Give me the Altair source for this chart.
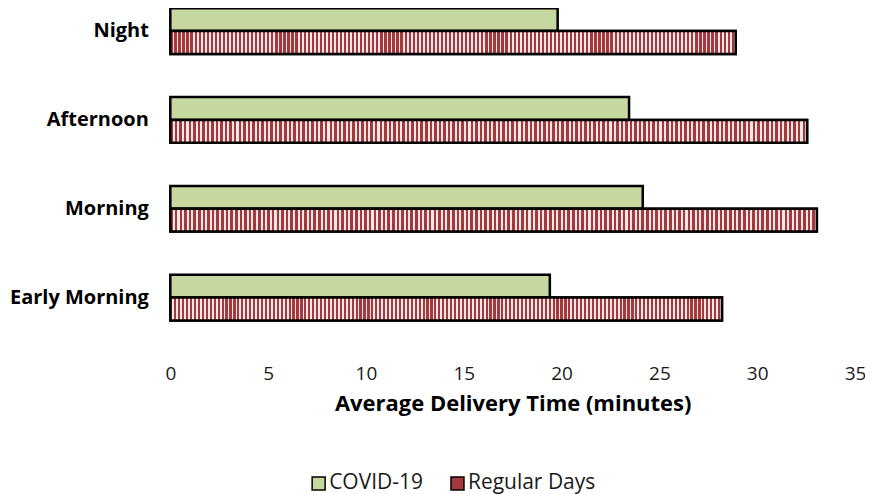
import altair as alt
import pandas as pd

categories = ["Night", "Afternoon", "Morning", "Early Morning"]
series = ["COVID-19", "Regular Days"]
covid = [19.8, 23.45, 24.15, 19.4]
regular = [28.9, 32.55, 33.05, 28.2]
x_ticks = [0, 5, 10, 15, 20, 25, 30, 35]

rows = []
for c, a, b in zip(categories, covid, regular):
    rows.append({"period": c, "series": series[0], "value": a})
    rows.append({"period": c, "series": series[1], "value": b})
df = pd.DataFrame(rows)

FONT = "Open Sans"
GREEN = "#c6d89f"
RED = "#a3393c"
LIGHT = "#f6e6e6"

# vertical stripe texture for the "Regular Days" bars
n = 140
stops = []
for i in range(n):
    s = round(i / n, 5)
    m = round((i + 0.55) / n, 5)
    e = round((i + 1) / n, 5)
    stops += [
        {"offset": s, "color": RED},
        {"offset": m, "color": RED},
        {"offset": m, "color": LIGHT},
        {"offset": e, "color": LIGHT},
    ]
stripe = {"gradient": "linear", "x1": 0, "y1": 0, "x2": 1, "y2": 0, "stops": stops}

y_enc = alt.Y(
    "period:N",
    sort=categories,
    scale=alt.Scale(paddingInner=0.486, paddingOuter=0),
    axis=alt.Axis(
        title=None, domain=False, ticks=False, labelFontSize=20,
        labelFontWeight="bold", labelFont=FONT, labelColor="#000000",
        labelPadding=22,
    ),
)
yoff_enc = alt.YOffset("series:N", scale=alt.Scale(domain=series, paddingInner=0, paddingOuter=0))
x_enc = alt.X(
    "value:Q",
    scale=alt.Scale(domain=[0, 35], nice=False),
    axis=alt.Axis(
        values=x_ticks, grid=False, domain=False, ticks=False, labelFlush=False,
        labelFontSize=19, labelFont=FONT, labelColor="#1a1a1a", labelPadding=44,
        title="Average Delivery Time (minutes)", titleFontSize=22,
        titleFont=FONT, titleFontWeight="bold", titleColor="#000000", titlePadding=10,
    ),
)

base = alt.Chart(df)

bars = base.mark_bar(stroke="black", strokeWidth=2.5).encode(
    x=x_enc,
    y=y_enc,
    yOffset=yoff_enc,
    fill=alt.Fill(
        "series:N",
        scale=alt.Scale(domain=series, range=[GREEN, RED]),
        legend=alt.Legend(
            title=None, orient="none", legendX=138, legendY=465,
            direction="horizontal", symbolType="square", symbolSize=169,
            symbolStrokeColor="black", symbolStrokeWidth=1.5,
            labelFontSize=21, labelFont=FONT, labelColor="#1a1a1a",
            labelOffset=0, columnPadding=24, padding=0,
        ),
    ),
)

striped = base.transform_filter(alt.datum.series == series[1]).mark_bar(
    stroke="black", strokeWidth=2.5, fill=stripe
).encode(x=x_enc, y=y_enc, yOffset=yoff_enc)

chart = alt.layer(bars, striped).properties(
    width=685.5,
    height=312.5,
    autosize=alt.AutoSizeParams(type="none"),
    padding={"left": 162.5, "top": 0, "right": 10, "bottom": 176},
).configure_view(stroke=None)

chart.save("out.html", embed_options={"renderer": "svg", "actions": False})
